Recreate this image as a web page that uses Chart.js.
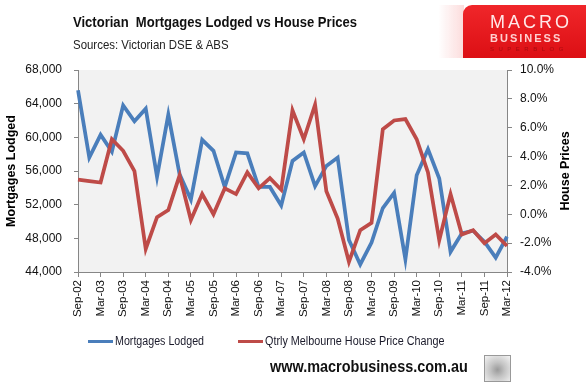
<!DOCTYPE html>
<html>
<head>
<meta charset="utf-8">
<script src="https://cdn.jsdelivr.net/npm/chart.js@4"></script>
<style>
  body { margin: 0; background: #fff; }
  #wrap { position: relative; width: 586px; height: 382px; overflow: hidden; font-family: 'Liberation Sans', Arial, sans-serif; color: #111; }
  #wrap canvas { position: absolute; left: 0; top: 0; }
  .txt { position: absolute; white-space: nowrap; transform-origin: left center; }
  .swatch { position: absolute; width: 25px; height: 3px; }
  #glow { position: absolute; left: 438px; top: 5px; width: 26px; height: 53px;
          background: linear-gradient(90deg, rgba(255,255,255,0) 0%, rgba(250,205,205,0.7) 100%); }
  #logo { position: absolute; left: 463px; top: 5px; width: 123px; height: 53px; border-top-left-radius: 9px;
          background: linear-gradient(180deg, #f0262a 0%, #dc0f14 100%); }
  #logo div { position: absolute; left: 27px; white-space: nowrap; }
  #wolf { position: absolute; left: 484px; top: 355px; width: 25px; height: 25px; border: 1px solid #999;
          background: radial-gradient(circle at 50% 55%, #9a9a9a 0%, #c4c4c4 40%, #f4f4f4 100%); }
</style>
</head>
<body>
<div id="wrap">
  <canvas id="myChart" width="586" height="382"></canvas>

  <div class="txt" style="left:73px; top:13px; font-size:15px; font-weight:bold; transform:scaleX(0.87);">Victorian&nbsp; Mortgages Lodged vs House Prices</div>
  <div class="txt" style="left:73px; top:37px; font-size:13px; color:#222; transform:scaleX(0.88);">Sources: Victorian DSE &amp; ABS</div>

  <div id="glow"></div>
  <div id="logo">
    <div style="top:7px; font-size:18px; color:#ffe8e8; letter-spacing:3px; font-weight:300;">MACRO</div>
    <div style="top:27px; font-size:11px; color:#ffd0d0; letter-spacing:2px; font-weight:bold;">BUSINESS</div>
    <div style="top:41px; font-size:6px; color:#a80c10; letter-spacing:4.5px;">SUPERBLOG</div>
  </div>

  <div class="swatch" style="left:88px; top:340px; background:#4a7ebb;"></div>
  <div class="txt" style="left:115px; top:334px; font-size:12px; color:#1a1a2a; transform:scaleX(0.89);">Mortgages Lodged</div>
  <div class="swatch" style="left:238px; top:340px; background:#be4b48;"></div>
  <div class="txt" style="left:265px; top:334px; font-size:12px; color:#1a1a2a; transform:scaleX(0.9);">Qtrly Melbourne House Price Change</div>

  <div class="txt" style="left:270px; top:357px; font-size:17px; font-weight:bold; color:#111; transform:scaleX(0.85);">www.macrobusiness.com.au</div>
  <div id="wolf"></div>
</div>

<script>
// quarters, Sep-02 .. Mar-12
const quarters = [
    'Sep-02', 'Dec-02', 'Mar-03', 'Jun-03', 'Sep-03', 'Dec-03', 'Mar-04', 'Jun-04',
    'Sep-04', 'Dec-04', 'Mar-05', 'Jun-05', 'Sep-05', 'Dec-05', 'Mar-06', 'Jun-06',
    'Sep-06', 'Dec-06', 'Mar-07', 'Jun-07', 'Sep-07', 'Dec-07', 'Mar-08', 'Jun-08',
    'Sep-08', 'Dec-08', 'Mar-09', 'Jun-09', 'Sep-09', 'Dec-09', 'Mar-10', 'Jun-10',
    'Sep-10', 'Dec-10', 'Mar-11', 'Jun-11', 'Sep-11', 'Dec-11', 'Mar-12'
];

const mortgagesLodged = [
    65600, 57600, 60300, 58300, 63800, 61900, 63400, 55300,
    62700, 55600, 52600, 59700, 58400, 54100, 58200, 58100,
    54100, 54100, 51900, 57200, 58200, 54200, 56600, 57600,
    47800, 44900, 47500, 51600, 53400, 45500, 55500, 58600,
    55100, 46400, 48600, 48900, 47600, 45700, 48200
];

// quarterly Melbourne house price change, %
const housePriceChange = [
    2.4, 2.3, 2.2, 5.2, 4.4, 3.0, -2.4, -0.2,
    0.3, 2.7, -0.4, 1.4, 0.0, 1.8, 1.4, 2.9,
    1.8, 2.5, 1.7, 7.2, 5.2, 7.6, 1.6, -0.3,
    -3.3, -1.1, -0.6, 5.9, 6.5, 6.6, 5.2, 2.9,
    -1.8, 1.4, -1.4, -1.1, -2.0, -1.4, -2.2
];

const leftTicks = { min: 44000, max: 68000, step: 4000 };
const rightTicks = { min: -4, max: 10, step: 2 };

const axisGrey = '#868686';
Chart.defaults.font.family = "'Liberation Sans', Arial, sans-serif";
Chart.defaults.font.size = 12;
Chart.defaults.color = '#111';

// grey plot area + right axis title (reads bottom to top)
const plotDecor = {
    id: 'plotDecor',
    beforeDraw(chart) {
        const { ctx, chartArea: a } = chart;
        ctx.save();
        ctx.fillStyle = '#f2f2f2';
        ctx.fillRect(a.left, a.top, a.right - a.left, a.bottom - a.top);
        ctx.restore();
    },
    afterDraw(chart) {
        const { ctx, chartArea: a } = chart;
        ctx.save();
        ctx.translate(566, (a.top + a.bottom) / 2);
        ctx.rotate(-Math.PI / 2);
        ctx.font = "bold 12.5px 'Liberation Sans', Arial, sans-serif";
        ctx.fillStyle = '#000';
        ctx.textAlign = 'center';
        ctx.textBaseline = 'middle';
        ctx.fillText('House Prices', 0, 0);
        ctx.restore();
    }
};

const ctx = document.getElementById('myChart').getContext('2d');
const myChart = new Chart(ctx, {
    type: 'line',
    data: {
        labels: quarters,
        datasets: [
            { label: 'Mortgages Lodged', data: mortgagesLodged, borderColor: '#4a7ebb', borderWidth: 3.75, yAxisID: 'y', order: 1 },
            { label: 'Qtrly Melbourne House Price Change', data: housePriceChange, borderColor: '#be4b48', borderWidth: 3.75, yAxisID: 'y1', order: 0 }
        ]
    },
    options: {
        responsive: false,
        devicePixelRatio: 1,
        animation: false,
        layout: { padding: { top: 70, left: 0, right: 0, bottom: 60 } },
        elements: { point: { radius: 0 }, line: { tension: 0 } },
        plugins: { legend: { display: false }, tooltip: { enabled: false } },
        scales: {
            x: {
                grid: {
                    drawOnChartArea: false, tickLength: 5,
                    color: (c) => (c.index % 2 === 0 ? axisGrey : 'rgba(0,0,0,0)')
                },
                border: { color: axisGrey },
                ticks: {
                    autoSkip: false, minRotation: 90, maxRotation: 90, padding: 3,
                    font: { size: 11.5 },
                    callback: (v, i) => (i % 2 === 0 ? quarters[i] : '')
                },
                afterFit: (s) => { s.height = 50; }
            },
            y: {
                position: 'left',
                min: leftTicks.min, max: leftTicks.max,
                grid: { drawOnChartArea: false, tickLength: 4, color: axisGrey },
                border: { color: axisGrey },
                ticks: { stepSize: leftTicks.step, padding: 12, callback: (v) => v.toLocaleString('en-US') },
                title: { display: true, text: 'Mortgages Lodged', color: '#000', font: { size: 12.5, weight: 'bold' }, padding: { top: 4, bottom: 0 } },
                afterFit: (s) => { s.width = 78; }
            },
            y1: {
                position: 'right',
                min: rightTicks.min, max: rightTicks.max,
                grid: { drawOnChartArea: false, tickLength: 5, color: axisGrey },
                border: { color: axisGrey },
                ticks: { stepSize: rightTicks.step, padding: 8, callback: (v) => v.toFixed(1) + '%' },
                afterFit: (s) => { s.width = 79; }
            }
        }
    },
    plugins: [plotDecor]
});
</script>
</body>
</html>
